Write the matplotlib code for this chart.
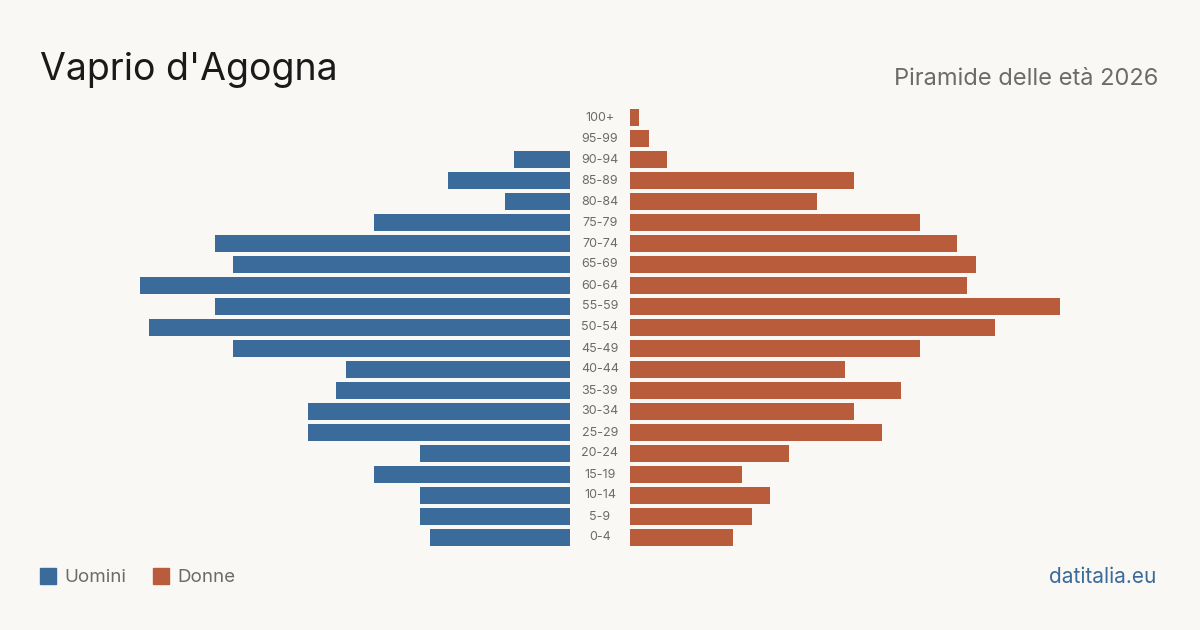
import matplotlib
matplotlib.use("Agg")
import matplotlib.pyplot as plt
from matplotlib.patches import Rectangle

age_groups = ["0-4", "5-9", "10-14", "15-19", "20-24", "25-29", "30-34", "35-39",
              "40-44", "45-49", "50-54", "55-59", "60-64", "65-69", "70-74", "75-79",
              "80-84", "85-89", "90-94", "95-99", "100+"]
men = [15, 16, 16, 21, 16, 28, 28, 25, 24, 36, 45, 38, 46, 36, 38, 21, 7, 13, 6, 0, 0]
women = [11, 13, 15, 12, 17, 27, 24, 29, 23, 31, 39, 46, 36, 37, 35, 31, 20, 24, 4, 2, 1]

BG = "#f9f8f4"
BLUE = "#3b6b9a"
ORANGE = "#b85c3c"
GRAY = "#6b6b6b"

plt.rcParams['font.family'] = ['Inter', 'DejaVu Sans']

W, H = 1200, 630
fig = plt.figure(figsize=(12, 6.3), dpi=100, facecolor=BG)

xmax = max(max(men), max(women))
top_px, bot_px = 107.0, 548.0
ax_b = (H - bot_px) / H
ax_h = (bot_px - top_px) / H

axL = fig.add_axes([140 / W, ax_b, 430 / W, ax_h])
axR = fig.add_axes([630 / W, ax_b, 430 / W, ax_h])
y = list(range(len(age_groups)))
axL.barh(y, men, height=0.81, color=BLUE)
axR.barh(y, women, height=0.81, color=ORANGE)
axL.set_xlim(xmax, 0)
axR.set_xlim(0, xmax)
for ax in (axL, axR):
    ax.set_ylim(-0.5, len(age_groups) - 0.5)
    ax.axis("off")
    ax.set_facecolor("none")

for i, lab in enumerate(age_groups):
    yp = ax_b + (i + 0.5) / len(age_groups) * ax_h
    fig.text(600 / W, yp, lab, ha="center", va="center", fontsize=9, color=GRAY)

fig.text(40 / W, 1 - 80 / H, "Vaprio d'Agogna", fontsize=27, color="#1a1a1a",
         ha="left", va="baseline")
fig.text(1158 / W, 1 - 85 / H, "Piramide delle età 2026", fontsize=17, color=GRAY,
         ha="right", va="baseline")

# legend
fig.patches.append(Rectangle((40 / W, 1 - 584 / H), 16 / W, 16 / H,
                             transform=fig.transFigure, color=BLUE))
fig.text(64 / W, 1 - 582.5 / H, "Uomini", fontsize=13.5, color=GRAY, ha="left", va="baseline")
fig.patches.append(Rectangle((153 / W, 1 - 584 / H), 16 / W, 16 / H,
                             transform=fig.transFigure, color=ORANGE))
fig.text(177 / W, 1 - 582.5 / H, "Donne", fontsize=13.5, color=GRAY, ha="left", va="baseline")

fig.text(1156 / W, 1 - 583 / H, "datitalia.eu", fontsize=15, color=BLUE,
         ha="right", va="baseline")

fig.savefig("out.png", dpi=100, facecolor=BG)
